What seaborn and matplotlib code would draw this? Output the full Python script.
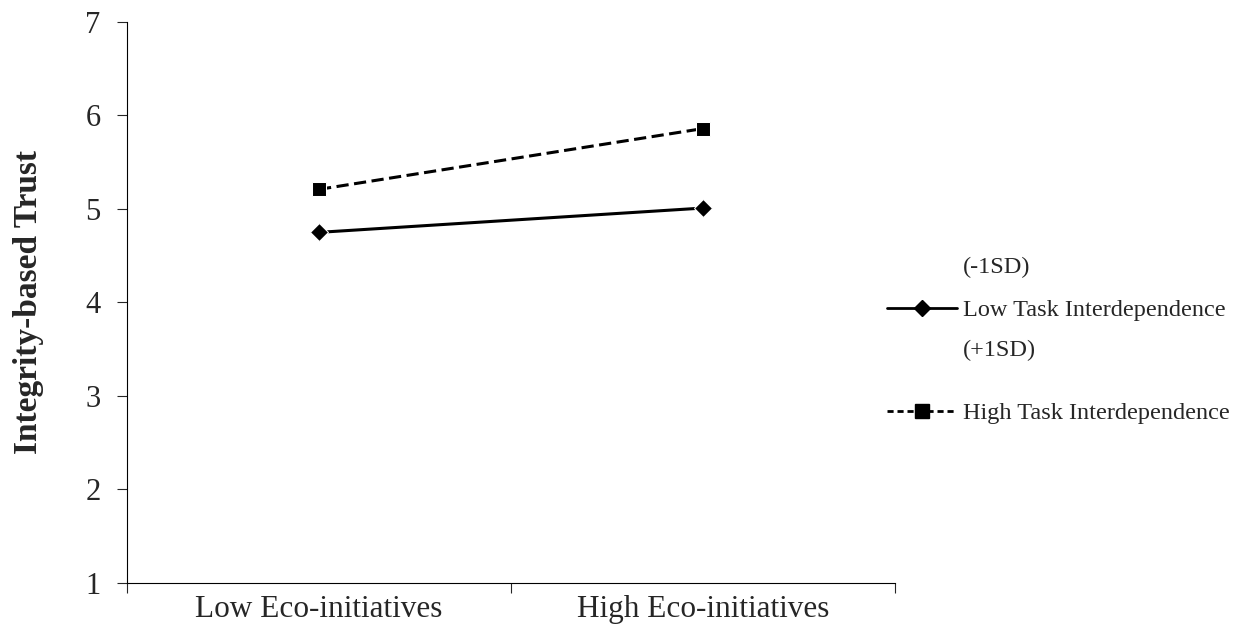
import pandas as pd
import matplotlib.pyplot as plt
import seaborn as sns
from matplotlib.lines import Line2D

# data
categories = ["Low Eco-initiatives", "High Eco-initiatives"]
low_task = [4.75, 5.01]
high_task = [5.21, 5.86]
series_names = ["Low Task Interdependence", "High Task Interdependence"]

df = pd.DataFrame({
    "x": [0, 1, 0, 1],
    "trust": low_task + high_task,
    "group": [series_names[0]] * 2 + [series_names[1]] * 2,
})

sns.set_style("white")
plt.rcParams["font.family"] = ["Liberation Serif", "DejaVu Serif"]

fig = plt.figure(figsize=(12.49, 6.37), dpi=100)
ax = fig.add_axes([0.1017, 0.0848, 0.6149, 0.8807])

sns.lineplot(data=df, x="x", y="trust", hue="group", style="group",
             palette=["black", "black"],
             markers={series_names[0]: "D", series_names[1]: "s"},
             dashes={series_names[0]: "", series_names[1]: (4, 1.8)},
             linewidth=2.2, legend=False, ax=ax)
# diamond a bit smaller than the square
for line, ms in zip(ax.get_lines(), [9.5, 10.5]):
    line.set_markersize(ms)

ax.set_xlim(-0.5, 1.5)
ax.set_ylim(1, 7)
ax.set_yticks(range(1, 8))
ax.tick_params(axis="y", labelsize=22, length=7, width=0.8, direction="out", left=True, pad=12)
ax.set_xticks([-0.5, 0.5, 1.5])
ax.set_xticklabels([])
ax.set_xticks([0, 1], minor=True)
ax.set_xticklabels(categories, minor=True)
ax.tick_params(axis="x", which="major", length=7, width=0.8, direction="out", bottom=True)
ax.tick_params(axis="x", which="minor", length=0, labelsize=22.5, pad=9)

for s in ["top", "right"]:
    ax.spines[s].set_visible(False)
for s in ["left", "bottom"]:
    ax.spines[s].set_color("black")
    ax.spines[s].set_linewidth(0.8)

ax.set_xlabel("")
ax.set_ylabel("Integrity-based Trust", fontsize=24, fontweight="bold", labelpad=30)

handles = [
    Line2D([], [], color="black", lw=2, marker="D", markersize=8.5),
    Line2D([], [], color="black", lw=2, ls=(0, (2.2, 1.4)), marker="s", markersize=10),
]
leg = fig.legend(handles, series_names, loc="center left",
                 bbox_to_anchor=(0.7023, 0.432), frameon=False, fontsize=17.5,
                 borderaxespad=0, handlelength=2.88, handletextpad=0.25,
                 labelspacing=3.33)

fig.text(0.771, 0.580, "(-1SD)", fontsize=17.5, va="center")
fig.text(0.771, 0.4505, "(+1SD)", fontsize=17.5, va="center")

fig.savefig("out.png", dpi=100)
